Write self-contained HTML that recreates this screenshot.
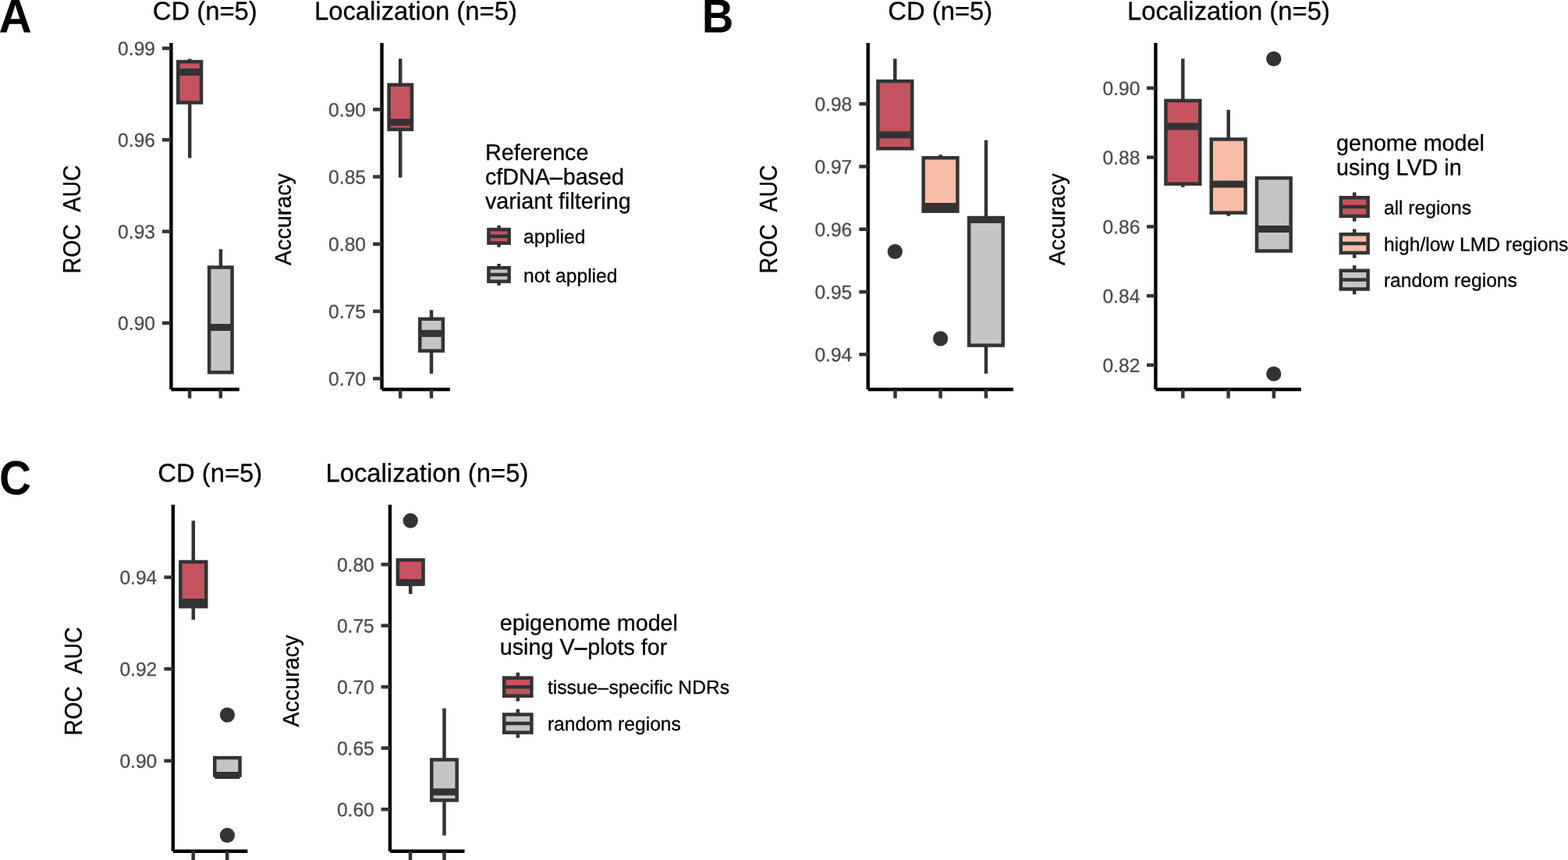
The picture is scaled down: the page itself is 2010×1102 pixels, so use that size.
<!DOCTYPE html>
<html lang="en">
<head>
<meta charset="utf-8">
<title>Figure: model performance box plots</title>
<style>
html,body{margin:0;padding:0;background:#fff;}
body{width:2010px;height:1102px;overflow:hidden;font-family:"Liberation Sans",Arial,Helvetica,sans-serif;}
svg{display:block;}
svg text{font-family:"Liberation Sans",Arial,Helvetica,sans-serif;white-space:pre;}
</style>
</head>
<body>
<svg width="2010" height="1102" viewBox="0 0 2010 1102">
<rect x="0" y="0" width="2010" height="1102" fill="#ffffff"/>
<text transform="translate(-1.45 41.4) rotate(0.03) scale(1.008 1.05)" font-size="58" fill="#000" font-weight="bold" xml:space="preserve">A</text>
<text transform="translate(899.8 41.4) rotate(0.03) scale(0.968 1.05)" font-size="58" fill="#000" font-weight="bold" xml:space="preserve">B</text>
<text transform="translate(-1 633.4) rotate(0.03) scale(0.976 1.06)" font-size="58" fill="#000" font-weight="bold" xml:space="preserve">C</text>
<text transform="translate(195.7 25.2) rotate(0.03) scale(0.995 1.0)" font-size="33" fill="#000" stroke="#000" stroke-width="0.3" xml:space="preserve">CD (n=5)</text>
<text transform="translate(402.9 25.2) rotate(0.03) scale(0.995 1.0)" font-size="33" fill="#000" stroke="#000" stroke-width="0.3" xml:space="preserve">Localization (n=5)</text>
<text transform="translate(102.9 350.4) rotate(-90) scale(0.981 1.05)" font-size="29" fill="#000" stroke="#000" stroke-width="0.3" word-spacing="0.8" xml:space="preserve">ROC  AUC</text>
<text transform="translate(372.7 340.1) rotate(-90) scale(0.99 1)" font-size="29" fill="#000" stroke="#000" stroke-width="0.3" xml:space="preserve">Accuracy</text>
<path d="M219.4 54.9V499" fill="none" stroke="#000" stroke-width="4.4"/>
<path d="M219.4 499H306.8" fill="none" stroke="#000" stroke-width="4.4"/>
<path d="M208.0 61.9H219.4" stroke="#333333" stroke-width="4.5"/>
<text transform="translate(199 70.8) rotate(0.03) scale(1 1.01)" font-size="24.6" fill="#4D4D4D" text-anchor="end" stroke="#4D4D4D" stroke-width="0.3" xml:space="preserve">0.99</text>
<path d="M208.0 179.2H219.4" stroke="#333333" stroke-width="4.5"/>
<text transform="translate(199 188.1) rotate(0.03) scale(1 1.01)" font-size="24.6" fill="#4D4D4D" text-anchor="end" stroke="#4D4D4D" stroke-width="0.3" xml:space="preserve">0.96</text>
<path d="M208.0 296.6H219.4" stroke="#333333" stroke-width="4.5"/>
<text transform="translate(199 305.5) rotate(0.03) scale(1 1.01)" font-size="24.6" fill="#4D4D4D" text-anchor="end" stroke="#4D4D4D" stroke-width="0.3" xml:space="preserve">0.93</text>
<path d="M208.0 413.9H219.4" stroke="#333333" stroke-width="4.5"/>
<text transform="translate(199 422.8) rotate(0.03) scale(1 1.01)" font-size="24.6" fill="#4D4D4D" text-anchor="end" stroke="#4D4D4D" stroke-width="0.3" xml:space="preserve">0.90</text>
<path d="M243.1 499.0V510.4" stroke="#333333" stroke-width="4.5"/>
<path d="M282.8 499.0V510.4" stroke="#333333" stroke-width="4.5"/>
<path d="M243.2 75.4V79.0" stroke="#333333" stroke-width="4.5"/>
<path d="M243.2 131.4V202.6" stroke="#333333" stroke-width="4.5"/>
<rect x="228.25" y="79.05" width="29.80" height="52.40" fill="#C5535E" stroke="#333333" stroke-width="4.5"/>
<path d="M228.25 92.4H258.05" stroke="#333333" stroke-width="9.0"/>
<path d="M282.9 319.2V342.6" stroke="#333333" stroke-width="4.5"/>
<rect x="268.15" y="342.55" width="29.40" height="134.60" fill="#C5C5C5" stroke="#333333" stroke-width="4.5"/>
<path d="M268.15 419.5H297.55" stroke="#333333" stroke-width="9.0"/>
<path d="M489.5 54.9V499" fill="none" stroke="#000" stroke-width="4.4"/>
<path d="M489.5 499H576.9" fill="none" stroke="#000" stroke-width="4.4"/>
<path d="M478.1 140.3H489.5" stroke="#333333" stroke-width="4.5"/>
<text transform="translate(469 149.2) rotate(0.03) scale(1 1.01)" font-size="24.6" fill="#4D4D4D" text-anchor="end" stroke="#4D4D4D" stroke-width="0.3" xml:space="preserve">0.90</text>
<path d="M478.1 226.5H489.5" stroke="#333333" stroke-width="4.5"/>
<text transform="translate(469 235.4) rotate(0.03) scale(1 1.01)" font-size="24.6" fill="#4D4D4D" text-anchor="end" stroke="#4D4D4D" stroke-width="0.3" xml:space="preserve">0.85</text>
<path d="M478.1 312.7H489.5" stroke="#333333" stroke-width="4.5"/>
<text transform="translate(469 321.6) rotate(0.03) scale(1 1.01)" font-size="24.6" fill="#4D4D4D" text-anchor="end" stroke="#4D4D4D" stroke-width="0.3" xml:space="preserve">0.80</text>
<path d="M478.1 398.9H489.5" stroke="#333333" stroke-width="4.5"/>
<text transform="translate(469 407.8) rotate(0.03) scale(1 1.01)" font-size="24.6" fill="#4D4D4D" text-anchor="end" stroke="#4D4D4D" stroke-width="0.3" xml:space="preserve">0.75</text>
<path d="M478.1 485.1H489.5" stroke="#333333" stroke-width="4.5"/>
<text transform="translate(469 494.0) rotate(0.03) scale(1 1.01)" font-size="24.6" fill="#4D4D4D" text-anchor="end" stroke="#4D4D4D" stroke-width="0.3" xml:space="preserve">0.70</text>
<path d="M513.2 499.0V510.4" stroke="#333333" stroke-width="4.5"/>
<path d="M553 499.0V510.4" stroke="#333333" stroke-width="4.5"/>
<path d="M513.2 75.2V108.7" stroke="#333333" stroke-width="4.5"/>
<path d="M513.2 165.8V227.5" stroke="#333333" stroke-width="4.5"/>
<rect x="498.55" y="108.65" width="29.40" height="57.20" fill="#C5535E" stroke="#333333" stroke-width="4.5"/>
<path d="M498.55 156.7H527.95" stroke="#333333" stroke-width="9.0"/>
<path d="M553.0 397.3V408.8" stroke="#333333" stroke-width="4.5"/>
<path d="M553.0 449.6V478.8" stroke="#333333" stroke-width="4.5"/>
<rect x="538.25" y="408.75" width="29.60" height="40.80" fill="#C5C5C5" stroke="#333333" stroke-width="4.5"/>
<path d="M538.25 427.3H567.85" stroke="#333333" stroke-width="9.0"/>
<text transform="translate(622 205.0) rotate(0.03) scale(0.99 1)" font-size="29" fill="#000" stroke="#000" stroke-width="0.3" xml:space="preserve">Reference</text>
<text transform="translate(622 236.3) rotate(0.03) scale(0.99 1)" font-size="29" fill="#000" stroke="#000" stroke-width="0.3" xml:space="preserve">cfDNA<tspan stroke="#000" stroke-width="0.6">–</tspan><tspan dx="0.8">based</tspan></text>
<text transform="translate(622 267.3) rotate(0.03) scale(0.99 1)" font-size="29" fill="#000" stroke="#000" stroke-width="0.3" xml:space="preserve">variant filtering</text>
<path d="M639.5 288.9V316.7" stroke="#333333" stroke-width="4.5"/>
<rect x="626.40" y="294.10" width="26.20" height="17.40" fill="#C5535E" stroke="#333333" stroke-width="4.5"/>
<path d="M626.40 302.8H652.60" stroke="#333333" stroke-width="4.5"/>
<path d="M639.5 338.0V365.8" stroke="#333333" stroke-width="4.5"/>
<rect x="626.40" y="343.20" width="26.20" height="17.40" fill="#C5C5C5" stroke="#333333" stroke-width="4.5"/>
<path d="M626.40 351.9H652.60" stroke="#333333" stroke-width="4.5"/>
<text transform="translate(671.1 311.6) rotate(0.03)" font-size="24.6" fill="#000" stroke="#000" stroke-width="0.3" xml:space="preserve">applied</text>
<text transform="translate(671.1 361.6) rotate(0.03)" font-size="24.6" fill="#000" stroke="#000" stroke-width="0.3" xml:space="preserve">not applied</text>
<text transform="translate(1138.2 25.2) rotate(0.03) scale(0.995 1.0)" font-size="33" fill="#000" stroke="#000" stroke-width="0.3" xml:space="preserve">CD (n=5)</text>
<text transform="translate(1444.9 25.2) rotate(0.03) scale(0.995 1.0)" font-size="33" fill="#000" stroke="#000" stroke-width="0.3" xml:space="preserve">Localization (n=5)</text>
<text transform="translate(995.9 350.4) rotate(-90) scale(0.981 1.05)" font-size="29" fill="#000" stroke="#000" stroke-width="0.3" word-spacing="0.8" xml:space="preserve">ROC  AUC</text>
<text transform="translate(1364.7 340.1) rotate(-90) scale(0.99 1)" font-size="29" fill="#000" stroke="#000" stroke-width="0.3" xml:space="preserve">Accuracy</text>
<path d="M1112.7 54.9V499" fill="none" stroke="#000" stroke-width="4.4"/>
<path d="M1112.7 499H1299" fill="none" stroke="#000" stroke-width="4.4"/>
<path d="M1101.3 133.1H1112.7" stroke="#333333" stroke-width="4.5"/>
<text transform="translate(1092.3 142.0) rotate(0.03) scale(1 1.01)" font-size="24.6" fill="#4D4D4D" text-anchor="end" stroke="#4D4D4D" stroke-width="0.3" xml:space="preserve">0.98</text>
<path d="M1101.3 213.4H1112.7" stroke="#333333" stroke-width="4.5"/>
<text transform="translate(1092.3 222.3) rotate(0.03) scale(1 1.01)" font-size="24.6" fill="#4D4D4D" text-anchor="end" stroke="#4D4D4D" stroke-width="0.3" xml:space="preserve">0.97</text>
<path d="M1101.3 293.8H1112.7" stroke="#333333" stroke-width="4.5"/>
<text transform="translate(1092.3 302.7) rotate(0.03) scale(1 1.01)" font-size="24.6" fill="#4D4D4D" text-anchor="end" stroke="#4D4D4D" stroke-width="0.3" xml:space="preserve">0.96</text>
<path d="M1101.3 374H1112.7" stroke="#333333" stroke-width="4.5"/>
<text transform="translate(1092.3 382.9) rotate(0.03) scale(1 1.01)" font-size="24.6" fill="#4D4D4D" text-anchor="end" stroke="#4D4D4D" stroke-width="0.3" xml:space="preserve">0.95</text>
<path d="M1101.3 454.2H1112.7" stroke="#333333" stroke-width="4.5"/>
<text transform="translate(1092.3 463.1) rotate(0.03) scale(1 1.01)" font-size="24.6" fill="#4D4D4D" text-anchor="end" stroke="#4D4D4D" stroke-width="0.3" xml:space="preserve">0.94</text>
<path d="M1147.5 499.0V510.4" stroke="#333333" stroke-width="4.5"/>
<path d="M1205.6 499.0V510.4" stroke="#333333" stroke-width="4.5"/>
<path d="M1263.9 499.0V510.4" stroke="#333333" stroke-width="4.5"/>
<path d="M1147.3 75.2V104.0" stroke="#333333" stroke-width="4.5"/>
<rect x="1125.45" y="104.05" width="43.80" height="86.30" fill="#C5535E" stroke="#333333" stroke-width="4.5"/>
<path d="M1125.45 172.7H1169.25" stroke="#333333" stroke-width="9.0"/>
<circle cx="1147.3" cy="322.4" r="9.6" fill="#333333"/>
<path d="M1205.6 198.2V202.2" stroke="#333333" stroke-width="4.5"/>
<rect x="1183.65" y="202.25" width="43.80" height="68.40" fill="#F8BCA6" stroke="#333333" stroke-width="4.5"/>
<path d="M1183.65 264.6H1227.45" stroke="#333333" stroke-width="9.0"/>
<circle cx="1205.6" cy="433.9" r="9.6" fill="#333333"/>
<path d="M1264.0 179.6V279.1" stroke="#333333" stroke-width="4.5"/>
<path d="M1264.0 442.6V478.8" stroke="#333333" stroke-width="4.5"/>
<rect x="1242.15" y="279.05" width="43.60" height="163.50" fill="#C5C5C5" stroke="#333333" stroke-width="4.5"/>
<path d="M1242.15 281.4H1285.75" stroke="#333333" stroke-width="9.0"/>
<path d="M1481.4 54.9V499" fill="none" stroke="#000" stroke-width="4.4"/>
<path d="M1481.4 499H1667.8" fill="none" stroke="#000" stroke-width="4.4"/>
<path d="M1470.0 112.8H1481.4" stroke="#333333" stroke-width="4.5"/>
<text transform="translate(1461.4 121.7) rotate(0.03) scale(1 1.01)" font-size="24.6" fill="#4D4D4D" text-anchor="end" stroke="#4D4D4D" stroke-width="0.3" xml:space="preserve">0.90</text>
<path d="M1470.0 201.6H1481.4" stroke="#333333" stroke-width="4.5"/>
<text transform="translate(1461.4 210.5) rotate(0.03) scale(1 1.01)" font-size="24.6" fill="#4D4D4D" text-anchor="end" stroke="#4D4D4D" stroke-width="0.3" xml:space="preserve">0.88</text>
<path d="M1470.0 290.4H1481.4" stroke="#333333" stroke-width="4.5"/>
<text transform="translate(1461.4 299.3) rotate(0.03) scale(1 1.01)" font-size="24.6" fill="#4D4D4D" text-anchor="end" stroke="#4D4D4D" stroke-width="0.3" xml:space="preserve">0.86</text>
<path d="M1470.0 379.1H1481.4" stroke="#333333" stroke-width="4.5"/>
<text transform="translate(1461.4 388.0) rotate(0.03) scale(1 1.01)" font-size="24.6" fill="#4D4D4D" text-anchor="end" stroke="#4D4D4D" stroke-width="0.3" xml:space="preserve">0.84</text>
<path d="M1470.0 467.8H1481.4" stroke="#333333" stroke-width="4.5"/>
<text transform="translate(1461.4 476.7) rotate(0.03) scale(1 1.01)" font-size="24.6" fill="#4D4D4D" text-anchor="end" stroke="#4D4D4D" stroke-width="0.3" xml:space="preserve">0.82</text>
<path d="M1516.3 499.0V510.4" stroke="#333333" stroke-width="4.5"/>
<path d="M1574.6 499.0V510.4" stroke="#333333" stroke-width="4.5"/>
<path d="M1632.9 499.0V510.4" stroke="#333333" stroke-width="4.5"/>
<path d="M1516.3 75.2V128.9" stroke="#333333" stroke-width="4.5"/>
<path d="M1516.3 235.7V239.9" stroke="#333333" stroke-width="4.5"/>
<rect x="1494.45" y="128.95" width="43.80" height="106.70" fill="#C5535E" stroke="#333333" stroke-width="4.5"/>
<path d="M1494.45 161.9H1538.25" stroke="#333333" stroke-width="9.0"/>
<path d="M1574.7 140.7V178.4" stroke="#333333" stroke-width="4.5"/>
<path d="M1574.7 272.6V276.8" stroke="#333333" stroke-width="4.5"/>
<rect x="1552.75" y="178.45" width="43.80" height="94.20" fill="#F8BCA6" stroke="#333333" stroke-width="4.5"/>
<path d="M1552.75 235.9H1596.55" stroke="#333333" stroke-width="9.0"/>
<rect x="1611.05" y="228.15" width="43.60" height="93.40" fill="#C5C5C5" stroke="#333333" stroke-width="4.5"/>
<path d="M1611.05 293.6H1654.65" stroke="#333333" stroke-width="9.0"/>
<circle cx="1632.8" cy="75.4" r="9.6" fill="#333333"/>
<circle cx="1632.8" cy="479" r="9.6" fill="#333333"/>
<text transform="translate(1713.0 193.0) rotate(0.03) scale(0.99 1)" font-size="29" fill="#000" stroke="#000" stroke-width="0.3" xml:space="preserve">genome model</text>
<text transform="translate(1713.0 224.2) rotate(0.03) scale(0.99 1)" font-size="29" fill="#000" stroke="#000" stroke-width="0.3" xml:space="preserve">using LVD in</text>
<path d="M1736.2 246.5V283.7" stroke="#333333" stroke-width="4.5"/>
<rect x="1718.80" y="253.25" width="34.80" height="23.70" fill="#C5535E" stroke="#333333" stroke-width="4.5"/>
<path d="M1718.80 265.1H1753.60" stroke="#333333" stroke-width="4.5"/>
<path d="M1736.2 293.5V330.7" stroke="#333333" stroke-width="4.5"/>
<rect x="1718.80" y="300.25" width="34.80" height="23.70" fill="#F8BCA6" stroke="#333333" stroke-width="4.5"/>
<path d="M1718.80 312.1H1753.60" stroke="#333333" stroke-width="4.5"/>
<path d="M1736.2 340.0V377.2" stroke="#333333" stroke-width="4.5"/>
<rect x="1718.80" y="346.75" width="34.80" height="23.70" fill="#C5C5C5" stroke="#333333" stroke-width="4.5"/>
<path d="M1718.80 358.6H1753.60" stroke="#333333" stroke-width="4.5"/>
<text transform="translate(1773.9 274.4) rotate(0.03)" font-size="24.6" fill="#000" stroke="#000" stroke-width="0.3" xml:space="preserve">all regions</text>
<text transform="translate(1773.9 321.4) rotate(0.03)" font-size="24.6" fill="#000" stroke="#000" stroke-width="0.3" xml:space="preserve">high/low LMD regions</text>
<text transform="translate(1773.9 367.4) rotate(0.03)" font-size="24.6" fill="#000" stroke="#000" stroke-width="0.3" xml:space="preserve">random regions</text>
<text transform="translate(202.2 617.2) rotate(0.03) scale(0.995 1.0)" font-size="33" fill="#000" stroke="#000" stroke-width="0.3" xml:space="preserve">CD (n=5)</text>
<text transform="translate(417.4 617.2) rotate(0.03) scale(0.995 1.0)" font-size="33" fill="#000" stroke="#000" stroke-width="0.3" xml:space="preserve">Localization (n=5)</text>
<text transform="translate(105.4 942.4) rotate(-90) scale(0.981 1.05)" font-size="29" fill="#000" stroke="#000" stroke-width="0.3" word-spacing="0.8" xml:space="preserve">ROC  AUC</text>
<text transform="translate(383.0 931.6) rotate(-90) scale(0.99 1)" font-size="29" fill="#000" stroke="#000" stroke-width="0.3" xml:space="preserve">Accuracy</text>
<path d="M221.8 646.8V1090.8" fill="none" stroke="#000" stroke-width="4.4"/>
<path d="M221.8 1090.8H317.4" fill="none" stroke="#000" stroke-width="4.4"/>
<path d="M210.4 739.7H221.8" stroke="#333333" stroke-width="4.5"/>
<text transform="translate(201.3 748.6) rotate(0.03) scale(1 1.01)" font-size="24.6" fill="#4D4D4D" text-anchor="end" stroke="#4D4D4D" stroke-width="0.3" xml:space="preserve">0.94</text>
<path d="M210.4 857.2H221.8" stroke="#333333" stroke-width="4.5"/>
<text transform="translate(201.3 866.1) rotate(0.03) scale(1 1.01)" font-size="24.6" fill="#4D4D4D" text-anchor="end" stroke="#4D4D4D" stroke-width="0.3" xml:space="preserve">0.92</text>
<path d="M210.4 974.9H221.8" stroke="#333333" stroke-width="4.5"/>
<text transform="translate(201.3 983.8) rotate(0.03) scale(1 1.01)" font-size="24.6" fill="#4D4D4D" text-anchor="end" stroke="#4D4D4D" stroke-width="0.3" xml:space="preserve">0.90</text>
<path d="M247.7 1090.8V1102.2" stroke="#333333" stroke-width="4.5"/>
<path d="M291.2 1090.8V1102.2" stroke="#333333" stroke-width="4.5"/>
<path d="M247.8 667.2V720.0" stroke="#333333" stroke-width="4.5"/>
<path d="M247.8 777.2V794" stroke="#333333" stroke-width="4.5"/>
<rect x="231.35" y="719.95" width="32.90" height="57.30" fill="#C5535E" stroke="#333333" stroke-width="4.5"/>
<path d="M231.35 771.5H264.25" stroke="#333333" stroke-width="9.0"/>
<rect x="275.25" y="971.05" width="32.30" height="22.50" fill="#C5C5C5" stroke="#333333" stroke-width="4.5"/>
<path d="M275.25 993.5H307.55" stroke="#333333" stroke-width="9.0"/>
<circle cx="291.4" cy="916.1" r="9.6" fill="#333333"/>
<circle cx="291.4" cy="1070.4" r="9.6" fill="#333333"/>
<path d="M499.9 646.8V1090.8" fill="none" stroke="#000" stroke-width="4.4"/>
<path d="M499.9 1090.8H595.5" fill="none" stroke="#000" stroke-width="4.4"/>
<path d="M488.5 723.3H499.9" stroke="#333333" stroke-width="4.5"/>
<text transform="translate(479.8 732.2) rotate(0.03) scale(1 1.01)" font-size="24.6" fill="#4D4D4D" text-anchor="end" stroke="#4D4D4D" stroke-width="0.3" xml:space="preserve">0.80</text>
<path d="M488.5 801.7H499.9" stroke="#333333" stroke-width="4.5"/>
<text transform="translate(479.8 810.6) rotate(0.03) scale(1 1.01)" font-size="24.6" fill="#4D4D4D" text-anchor="end" stroke="#4D4D4D" stroke-width="0.3" xml:space="preserve">0.75</text>
<path d="M488.5 880.2H499.9" stroke="#333333" stroke-width="4.5"/>
<text transform="translate(479.8 889.1) rotate(0.03) scale(1 1.01)" font-size="24.6" fill="#4D4D4D" text-anchor="end" stroke="#4D4D4D" stroke-width="0.3" xml:space="preserve">0.70</text>
<path d="M488.5 958.6H499.9" stroke="#333333" stroke-width="4.5"/>
<text transform="translate(479.8 967.5) rotate(0.03) scale(1 1.01)" font-size="24.6" fill="#4D4D4D" text-anchor="end" stroke="#4D4D4D" stroke-width="0.3" xml:space="preserve">0.65</text>
<path d="M488.5 1037.1H499.9" stroke="#333333" stroke-width="4.5"/>
<text transform="translate(479.8 1046.0) rotate(0.03) scale(1 1.01)" font-size="24.6" fill="#4D4D4D" text-anchor="end" stroke="#4D4D4D" stroke-width="0.3" xml:space="preserve">0.60</text>
<path d="M526 1090.8V1102.2" stroke="#333333" stroke-width="4.5"/>
<path d="M569.5 1090.8V1102.2" stroke="#333333" stroke-width="4.5"/>
<path d="M526.2 748.4V761.2" stroke="#333333" stroke-width="4.5"/>
<rect x="509.85" y="717.55" width="32.70" height="30.80" fill="#C5535E" stroke="#333333" stroke-width="4.5"/>
<path d="M509.85 746.4H542.55" stroke="#333333" stroke-width="9.0"/>
<circle cx="526.2" cy="667.2" r="9.6" fill="#333333"/>
<path d="M569.5 907.6V973.5" stroke="#333333" stroke-width="4.5"/>
<path d="M569.5 1025.5V1070.6" stroke="#333333" stroke-width="4.5"/>
<rect x="553.25" y="973.45" width="32.40" height="52.00" fill="#C5C5C5" stroke="#333333" stroke-width="4.5"/>
<path d="M553.25 1014.7H585.65" stroke="#333333" stroke-width="9.0"/>
<text transform="translate(640.8 807.8) rotate(0.03) scale(0.99 1)" font-size="29" fill="#000" stroke="#000" stroke-width="0.3" xml:space="preserve">epigenome model</text>
<text transform="translate(640.8 838.8) rotate(0.03) scale(0.99 1)" font-size="29" fill="#000" stroke="#000" stroke-width="0.3" xml:space="preserve">using V<tspan stroke="#000" stroke-width="0.6">–</tspan><tspan dx="0.8">plots for</tspan></text>
<path d="M663.8 861.8V898.6" stroke="#333333" stroke-width="4.5"/>
<rect x="646.20" y="868.65" width="35.20" height="23.10" fill="#C5535E" stroke="#333333" stroke-width="4.5"/>
<path d="M646.20 880.2H681.40" stroke="#333333" stroke-width="4.5"/>
<path d="M663.8 908.7V945.5" stroke="#333333" stroke-width="4.5"/>
<rect x="646.20" y="915.55" width="35.20" height="23.10" fill="#C5C5C5" stroke="#333333" stroke-width="4.5"/>
<path d="M646.20 927.1H681.40" stroke="#333333" stroke-width="4.5"/>
<text transform="translate(701.9 888.9) rotate(0.03)" font-size="24.6" fill="#000" stroke="#000" stroke-width="0.3" xml:space="preserve">tissue<tspan stroke="#000" stroke-width="0.55">–</tspan><tspan dx="0.7">specific NDRs</tspan></text>
<text transform="translate(701.9 935.9) rotate(0.03)" font-size="24.6" fill="#000" stroke="#000" stroke-width="0.3" xml:space="preserve">random regions</text>
</svg>
</body>
</html>
